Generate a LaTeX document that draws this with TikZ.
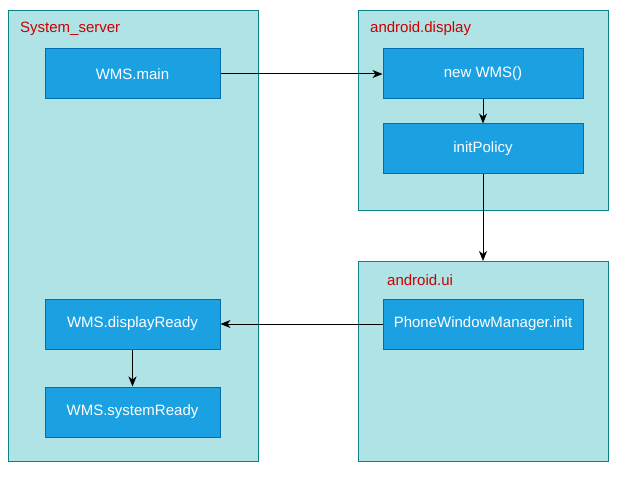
\documentclass[tikz,border=0pt]{standalone}
\usepackage{fontspec}
\setmainfont{Liberation Sans}
\usetikzlibrary{arrows.meta}
\definecolor{grpfill}{HTML}{B0E3E6}
\definecolor{grpline}{HTML}{0E8088}
\definecolor{boxfill}{HTML}{1BA1E2}
\definecolor{boxline}{HTML}{006EAF}
\definecolor{grptext}{HTML}{CC0000}
\begin{document}
\begin{tikzpicture}[x=1pt,y=-1pt,>={Stealth[length=10pt,width=8pt,inset=3pt]},
    group/.style={draw=grpline,fill=grpfill,line width=1pt},
    grplabel/.style={anchor=west,inner sep=0pt,text=grptext,font=\fontsize{15}{18}\selectfont},
    task/.style={draw=boxline,fill=boxfill,line width=1pt,text=white,
        minimum width=#1,minimum height=50pt,inner sep=0pt,font=\fontsize{15}{18}\selectfont},
    task/.default=175pt]

    \useasboundingbox (0,0) rectangle (621,481);

    % groupes
    \draw[group] (8,11) rectangle (258,461);
    \draw[group] (358,11) rectangle (608,211);
    \draw[group] (358,261) rectangle (608,461);
    \coordinate (ui) at (483,261);

    \node[grplabel] (lsys) at (20,29) {System\_server};
    \node[grplabel] (ldisp) at (370,29) {android.display};
    \node[grplabel] (lui) at (387,280) {android.ui};

    % taches
    \node[task] (main) at (132.5,74) {WMS.main};
    \node[task=200pt] (new) at (483,74) {new WMS()};
    \node[task=200pt] (policy) at (483,149) {initPolicy};
    \node[task=200pt] (pwm) at (483,324) {PhoneWindowManager.init};
    \node[task] (dready) at (132.5,324) {WMS.displayReady};
    \node[task] (sready) at (132.5,412) {WMS.systemReady};

    % fleches
    \draw[->,line width=1pt] (main) -- (new);
    \draw[->,line width=1pt] (new) -- (policy);
    \draw[->,line width=1pt] (policy) -- (ui);
    \draw[->,line width=1pt] (pwm) -- (dready);
    \draw[->,line width=1pt] (dready) -- (sready);

\end{tikzpicture}
\end{document}
